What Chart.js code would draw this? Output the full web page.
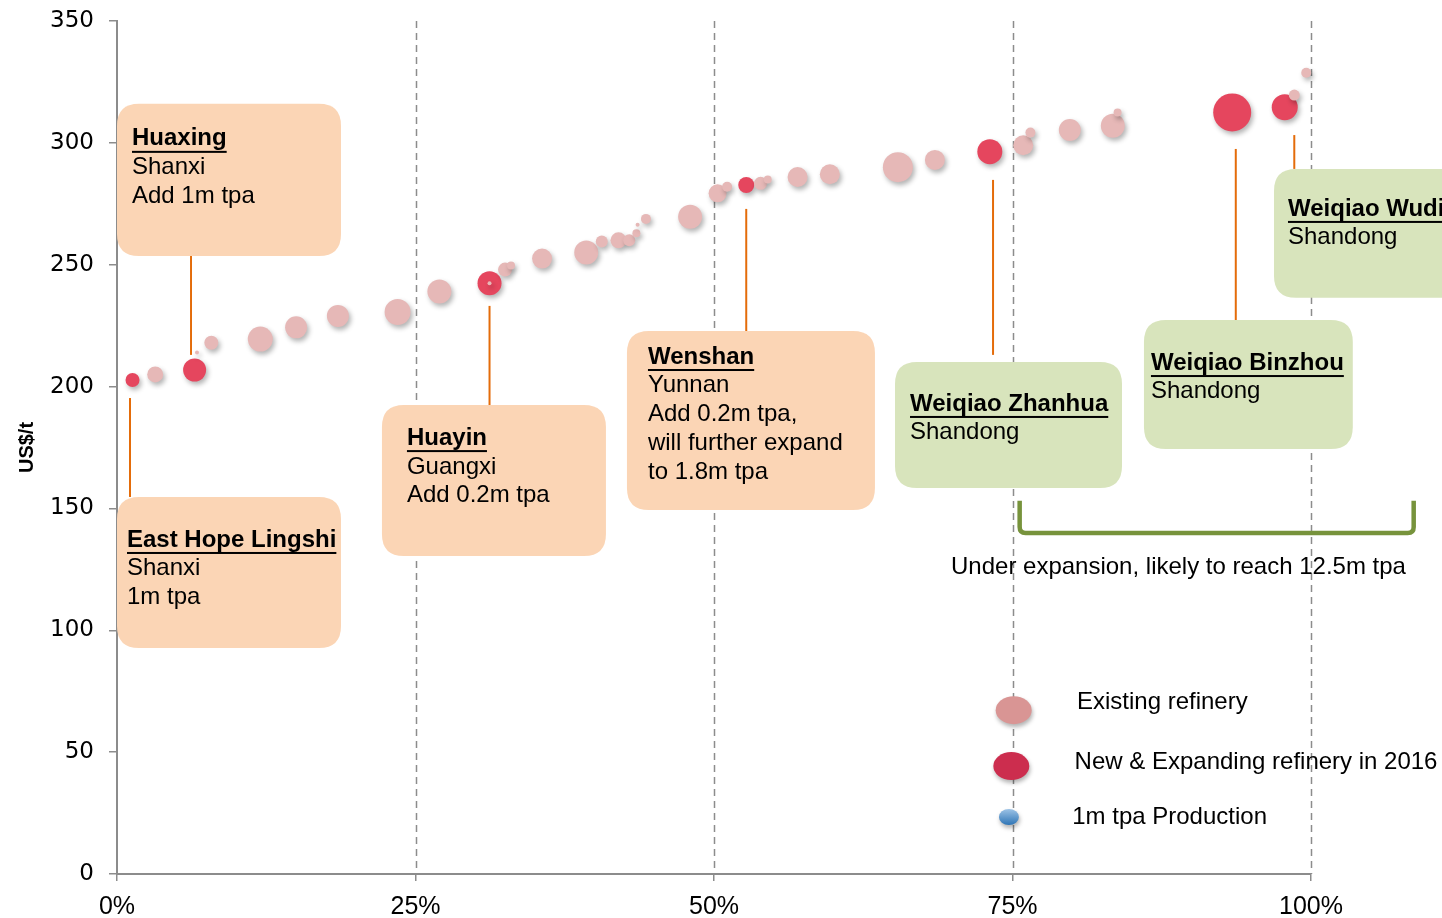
<!DOCTYPE html>
<html>
<head>
<meta charset="utf-8">
<script src="https://cdn.jsdelivr.net/npm/chart.js@4.4.1/dist/chart.umd.min.js"></script>
<style>
  html, body { margin: 0; padding: 0; background: #fff; }
  #wrap { width: 1442px; height: 918px; }
</style>
</head>
<body>
<div id="wrap"><canvas id="cost-curve" width="1442" height="918"></canvas></div>
<script>
// cumulative capacity share (%), cash cost (US$/t), bubble size
const existingX = [3.2, 6.7, 7.9, 12.0, 15.0, 18.5, 23.5, 27.0, 31.2, 32.5, 33.0, 35.6, 39.3, 40.6, 42.0, 42.9, 43.5, 43.6, 44.3, 48.0, 50.3, 51.1, 53.9, 54.5, 57.0, 59.7, 65.4, 68.5, 75.9, 76.5, 79.8, 83.4, 83.8, 98.6, 99.6];
const existingY = [205, 214, 218, 219.5, 224.3, 229, 230.6, 239, 242.4, 248, 249.7, 252.5, 255, 259.5, 260, 260, 262.9, 266.4, 268.8, 269.7, 279.3, 282, 283.4, 285, 286, 287.1, 290, 293, 299, 304.2, 305.3, 307, 312.5, 319.6, 328.8];
const existingSize = [8, 2, 7, 12.5, 11, 11, 13, 12, 2, 7, 4, 10, 12, 6, 8, 6, 4, 2, 5, 12, 9, 5, 6.5, 4, 10, 10, 15, 10, 10, 5, 11, 12, 4, 5.5, 5];

const newX = [1.3, 6.5, 31.2, 52.7, 73.1, 93.4, 97.8];
const newY = [202.7, 206.8, 242.4, 282.7, 296.4, 312.5, 314.6];
const newSize = [7, 11.5, 12, 8, 12.5, 19, 13];

const xTicks = [0, 25, 50, 75, 100];
const yTicks = [0, 50, 100, 150, 200, 250, 300, 350];

// callouts: title, lines, box in data units, connector x and y range
const callouts = [
  { title: 'Huaxing', lines: ['Shanxi', 'Add 1m tpa'], box: [0, 18.76, 316.0, 253.6], pad: [15, 35], fill: '#FBD5B5', link: [6.2, 253.6, 213] },
  { title: 'East Hope Lingshi', lines: ['Shanxi', '1m tpa'], box: [0, 18.76, 154.7, 92.7], pad: [10, 43], fill: '#FBD5B5', link: [1.09, 195.3, 154.7] },
  { title: 'Huayin', lines: ['Guangxi', 'Add 0.2m tpa'], box: [22.19, 40.95, 192.4, 130.5], pad: [25, 33], fill: '#FBD5B5', link: [31.2, 233.1, 192.4] },
  { title: 'Wenshan', lines: ['Yunnan', 'Add 0.2m tpa,', 'will further expand', 'to 1.8m tpa'], box: [42.71, 63.48, 222.8, 149.4], pad: [21, 26], fill: '#FBD5B5', link: [52.7, 272.9, 222.8] },
  { title: 'Weiqiao Zhanhua', lines: ['Shandong'], box: [65.16, 84.17, 210.1, 158.4], pad: [15, 42], fill: '#D8E4BC', link: [73.37, 284.8, 213] },
  { title: 'Weiqiao Binzhou', lines: ['Shandong'], box: [86.01, 103.5, 227.3, 174.4], pad: [7, 43], fill: '#D8E4BC', link: [93.7, 297.5, 227.3] },
  { title: 'Weiqiao Wudi', lines: ['Shandong'], box: [96.9, 113.3, 289.3, 236.4], pad: [14, 40], fill: '#D8E4BC', link: [98.6, 303.2, 289.3] }
];

const FONT = '"Liberation Sans", Arial, sans-serif';

function roundRect(ctx, x, y, w, h, r) {
  ctx.beginPath();
  ctx.moveTo(x + r, y);
  ctx.lineTo(x + w - r, y);
  ctx.quadraticCurveTo(x + w, y, x + w, y + r);
  ctx.lineTo(x + w, y + h - r);
  ctx.quadraticCurveTo(x + w, y + h, x + w - r, y + h);
  ctx.lineTo(x + r, y + h);
  ctx.quadraticCurveTo(x, y + h, x, y + h - r);
  ctx.lineTo(x, y + r);
  ctx.quadraticCurveTo(x, y, x + r, y);
  ctx.closePath();
}

const decorations = {
  id: 'decorations',
  beforeDatasetsDraw(chart) {
    const { ctx, chartArea, scales: { x } } = chart;
    // dashed vertical gridlines
    ctx.save();
    ctx.strokeStyle = '#8c8c8c';
    ctx.lineWidth = 1.5;
    ctx.setLineDash([7, 5]);
    xTicks.slice(1).forEach(v => {
      const px = Math.round(x.getPixelForValue(v)) + 0.5;
      ctx.beginPath();
      ctx.moveTo(px, chartArea.top);
      ctx.lineTo(px, chartArea.bottom);
      ctx.stroke();
    });
    ctx.restore();
    // connectors
    ctx.save();
    ctx.strokeStyle = '#E46C0A';
    ctx.lineWidth = 2;
    callouts.forEach(c => {
      const px = x.getPixelForValue(c.link[0]);
      ctx.beginPath();
      ctx.moveTo(px, chart.scales.y.getPixelForValue(c.link[1]));
      ctx.lineTo(px, chart.scales.y.getPixelForValue(c.link[2]));
      ctx.stroke();
    });
    ctx.restore();
    // soft shadow for bubbles
    ctx.save();
    ctx.shadowColor = 'rgba(0,0,0,0.3)';
    ctx.shadowBlur = 5;
    ctx.shadowOffsetX = 2;
    ctx.shadowOffsetY = 3;
  },
  afterDatasetsDraw(chart) {
    const { ctx, scales: { x, y } } = chart;
    ctx.restore();

    // callout boxes
    callouts.forEach(c => {
      const x0 = x.getPixelForValue(c.box[0]);
      const x1 = x.getPixelForValue(c.box[1]);
      const y0 = y.getPixelForValue(c.box[2]);
      const y1 = y.getPixelForValue(c.box[3]);
      ctx.save();
      roundRect(ctx, x0, y0, x1 - x0, y1 - y0, 22);
      ctx.fillStyle = c.fill;
      ctx.fill();
      ctx.fillStyle = '#000';
      ctx.textBaseline = 'middle';
      ctx.textAlign = 'left';
      const tx = x0 + c.pad[0];
      let ty = y0 + c.pad[1];
      ctx.font = 'bold 24px ' + FONT;
      ctx.fillText(c.title, tx, ty);
      const w = ctx.measureText(c.title).width;
      ctx.fillRect(tx, ty + 12, w, 2);
      ctx.font = '24px ' + FONT;
      c.lines.forEach(l => {
        ty += 28.8;
        ctx.fillText(l, tx, ty);
      });
      ctx.restore();
    });

    // green bracket
    const bx0 = x.getPixelForValue(75.6), bx1 = x.getPixelForValue(108.6);
    const by0 = y.getPixelForValue(153.1), by1 = y.getPixelForValue(139.9);
    ctx.save();
    ctx.strokeStyle = '#77933C';
    ctx.lineWidth = 4.5;
    ctx.lineJoin = 'round';
    ctx.beginPath();
    ctx.moveTo(bx0, by0);
    ctx.lineTo(bx0, by1 - 6);
    ctx.quadraticCurveTo(bx0, by1, bx0 + 6, by1);
    ctx.lineTo(bx1 - 6, by1);
    ctx.quadraticCurveTo(bx1, by1, bx1, by1 - 6);
    ctx.lineTo(bx1, by0);
    ctx.stroke();
    ctx.fillStyle = '#000';
    ctx.font = '24px ' + FONT;
    ctx.textAlign = 'center';
    ctx.textBaseline = 'middle';
    ctx.fillText('Under expansion, likely to reach 12.5m tpa', x.getPixelForValue(88.9), y.getPixelForValue(126));
    ctx.restore();

    // legend
    const legend = [
      { label: 'Existing refinery', cx: 75.1, cy: 67.2, rx: 18, ry: 14, color: '#D99594', tx: 80.4 },
      { label: 'New & Expanding refinery in 2016', cx: 74.9, cy: 44.3, rx: 18, ry: 14, color: '#CC2D4E', tx: 80.2 },
      { label: '1m tpa Production', cx: 74.7, cy: 23.4, rx: 10, ry: 8, color: '#5B9BD5', tx: 80.0 }
    ];
    const ly = [70.5, 46.0, 23.4];
    legend.forEach((item, i) => {
      const cx = x.getPixelForValue(item.cx), cy = y.getPixelForValue(item.cy);
      ctx.save();
      ctx.shadowColor = 'rgba(0,0,0,0.3)';
      ctx.shadowBlur = 4;
      ctx.shadowOffsetX = 1;
      ctx.shadowOffsetY = 3;
      ctx.beginPath();
      ctx.ellipse(cx, cy, item.rx, item.ry, 0, 0, Math.PI * 2);
      if (i === 2) {
        const g = ctx.createLinearGradient(cx, cy - item.ry, cx, cy + item.ry);
        g.addColorStop(0, '#9DC3E6');
        g.addColorStop(1, '#2E75B6');
        ctx.fillStyle = g;
      } else {
        ctx.fillStyle = item.color;
      }
      ctx.fill();
      ctx.restore();
      ctx.save();
      ctx.fillStyle = '#000';
      ctx.font = '24px ' + FONT;
      ctx.textAlign = 'left';
      ctx.textBaseline = 'middle';
      ctx.fillText(item.label, x.getPixelForValue(item.tx), y.getPixelForValue(ly[i]));
      ctx.restore();
    });
  }
};

const toPoints = (xs, ys, rs) => xs.map((v, i) => ({ x: v, y: ys[i], r: rs[i] }));

const ctx = document.getElementById('cost-curve').getContext('2d');

const costChart = new Chart(ctx, {
  type: 'bubble',
  data: {
    datasets: [
      {
        label: 'Existing refinery',
        data: toPoints(existingX, existingY, existingSize),
        backgroundColor: '#E6B8B7',
        borderWidth: 0,
        clip: false
      },
      {
        label: 'New & Expanding refinery in 2016',
        data: toPoints(newX, newY, newSize),
        backgroundColor: '#E5465E',
        borderWidth: 0,
        clip: false
      }
    ]
  },
  options: {
    responsive: false,
    animation: false,
    events: [],
    layout: { padding: { top: 21, right: 131, left: 0, bottom: 0 } },
    plugins: {
      legend: { display: false },
      tooltip: { enabled: false }
    },
    scales: {
      x: {
        type: 'linear',
        min: 0,
        max: 100,
        afterBuildTicks: s => { s.ticks = xTicks.map(v => ({ value: v })); },
        afterFit: s => { s.height = 44; s.paddingLeft = 0; s.paddingRight = 0; },
        ticks: {
          callback: v => v + '%',
          color: '#000',
          padding: 11,
          font: { family: FONT, size: 25 }
        },
        grid: { drawOnChartArea: false, drawTicks: true, tickLength: 7, color: '#8c8c8c', lineWidth: 1.5 },
        border: { display: true, color: '#8c8c8c', width: 2 }
      },
      y: {
        min: 0,
        max: 350,
        afterBuildTicks: s => { s.ticks = yTicks.map(v => ({ value: v })); },
        afterFit: s => { s.width = 117; s.paddingTop = 0; s.paddingBottom = 0; },
        ticks: {
          color: '#000',
          padding: 15,
          font: { family: '"DejaVu Sans", Verdana, sans-serif', size: 23 }
        },
        title: {
          display: true,
          text: 'US$/t',
          color: '#000',
          padding: { top: 15, bottom: 0 },
          font: { family: FONT, size: 20, weight: 'bold' }
        },
        grid: { drawOnChartArea: false, drawTicks: true, tickLength: 8, color: '#8c8c8c', lineWidth: 1.5 },
        border: { display: true, color: '#8c8c8c', width: 2 }
      }
    }
  },
  plugins: [decorations]
});
</script>
</body>
</html>
